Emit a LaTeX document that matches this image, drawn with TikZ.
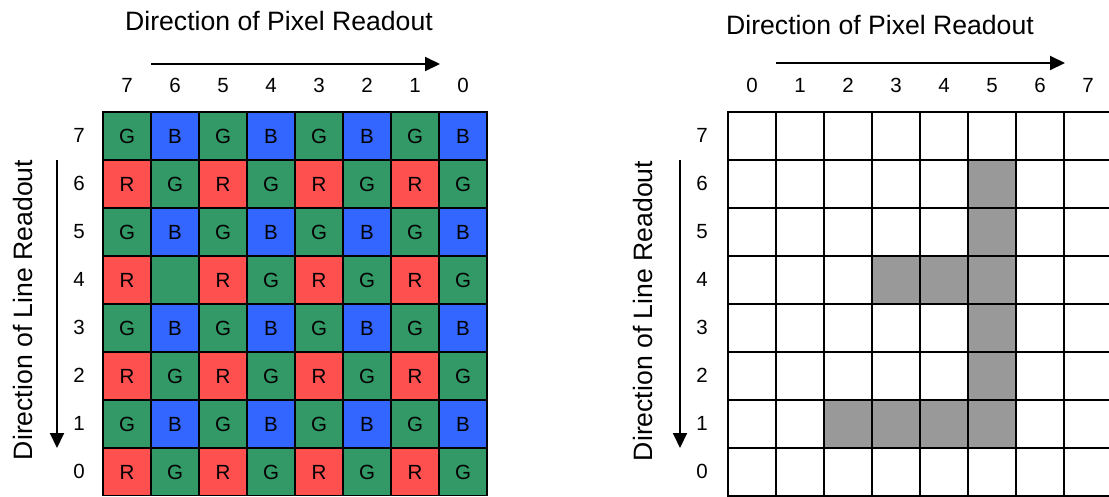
\documentclass[tikz,border=0pt]{standalone}
\usepackage{fontspec}
\setmainfont{Liberation Sans}
\usetikzlibrary{arrows.meta}

\definecolor{bayerG}{HTML}{339966}
\definecolor{bayerB}{HTML}{3366FF}
\definecolor{bayerR}{HTML}{FF5050}
\definecolor{litpix}{HTML}{999999}

\tikzset{
  colcell/.style={draw=black, line width=2.2pt, minimum size=48pt, inner sep=0pt,
    font=\fontsize{20.5}{22}\selectfont, text height=14.7pt, text depth=0pt},
  monocell/.style={draw=black, line width=2pt, minimum size=48pt, inner sep=0pt, fill=white},
  idx/.style={inner sep=0pt, font=\fontsize{20.5}{22}\selectfont,
    text height=14.7pt, text depth=0pt},
  heading/.style={inner sep=0pt, font=\fontsize{26.6}{30}\selectfont},
  readout/.style={line width=2pt, -{Triangle[length=15pt,width=14pt]}}
}

\begin{document}
\begin{tikzpicture}[x=1pt, y=-1pt]
  \useasboundingbox (0,0) rectangle (1109,496);

  % ---------- Bayer colour filter array ----------
  \begin{scope}
  \clip (0,0) rectangle (1109,495);
  \foreach \i in {0,...,7} {
    \pgfmathtruncatemacro{\row}{7-\i}
    \foreach \j in {0,...,7} {
      \pgfmathtruncatemacro{\col}{7-\j}
      \pgfmathtruncatemacro{\ei}{mod(\i,2)}
      \pgfmathtruncatemacro{\ej}{mod(\j,2)}
      \ifnum\ei=0
        \ifnum\ej=0 \def\cc{bayerG}\def\ll{G}\else \def\cc{bayerB}\def\ll{B}\fi
      \else
        \ifnum\ej=0 \def\cc{bayerR}\def\ll{R}\else \def\cc{bayerG}\def\ll{G}\fi
      \fi
      % one green site in line 4 carries no letter
      \ifnum\i=3 \ifnum\j=1 \def\ll{}\fi\fi
      \node[colcell, fill=\cc] (L-\row-\col) at (127+48*\j, 136+48*\i) {\ll};
    }
  }
  \end{scope}

  % ---------- monochrome readout grid ----------
  \begin{scope}
  \clip (0,0) rectangle (1109,496);
  \foreach \i in {0,...,7} {
    \pgfmathtruncatemacro{\row}{7-\i}
    \foreach \j in {0,...,7} {
      \node[monocell] (M-\row-\j) at (752+48*\j, 136+48*\i) {};
    }
  }
  % lit pixels
  \foreach \row/\col in {6/5, 5/5, 4/3, 4/4, 4/5, 3/5, 2/5, 1/2, 1/3, 1/4, 1/5} {
    \node[monocell, fill=litpix] at (M-\row-\col) {};
  }
  \end{scope}

  % ---------- indices ----------
  \foreach \j in {0,...,7} {
    \pgfmathtruncatemacro{\col}{7-\j}
    \node[idx] (Lc-\col) at (127+48*\j, 85) {\col};
    \node[idx] (Mc-\j) at (752+48*\j, 85) {\j};
  }
  \foreach \i in {0,...,7} {
    \pgfmathtruncatemacro{\row}{7-\i}
    \node[idx] (Lr-\row) at (79, 135+48*\i) {\row};
    \node[idx] (Mr-\row) at (702, 135+48*\i) {\row};
  }

  % ---------- headings ----------
  \node[heading] (Lpix) at (279, 21) {Direction of Pixel Readout};
  \node[heading] (Mpix) at (880, 25) {Direction of Pixel Readout};
  \node[heading, rotate=90] (Lline) at (23, 310) {Direction of Line Readout};
  \node[heading, rotate=90] (Mline) at (643, 311) {Direction of Line Readout};

  % ---------- readout arrows ----------
  \coordinate (Lh0) at (151, 64);  \coordinate (Lh1) at (440, 64);
  \coordinate (Mh0) at (776, 63);  \coordinate (Mh1) at (1065, 63);
  \coordinate (Lv0) at (57, 160);  \coordinate (Lv1) at (57, 448);
  \coordinate (Mv0) at (680, 160); \coordinate (Mv1) at (680, 448);
  \draw[readout] (Lh0) -- (Lh1);
  \draw[readout] (Mh0) -- (Mh1);
  \draw[readout] (Lv0) -- (Lv1);
  \draw[readout] (Mv0) -- (Mv1);
\end{tikzpicture}
\end{document}
